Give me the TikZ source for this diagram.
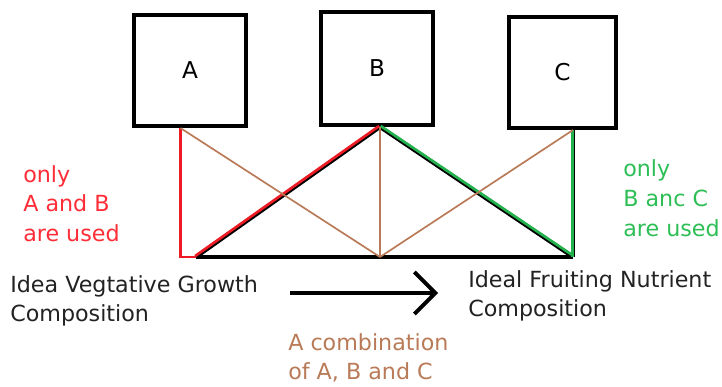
\documentclass[tikz,border=0pt]{standalone}
\usepackage{fontspec}
\setmainfont{DejaVu Sans}
\usepackage{xcolor}
\usetikzlibrary{arrows.meta}
\definecolor{usedred}{RGB}{237,28,36}
\definecolor{textred}{RGB}{255,45,55}
\definecolor{usedgreen}{RGB}{34,177,76}
\definecolor{textgreen}{RGB}{45,190,85}
\definecolor{mixbrown}{RGB}{185,122,87}
\definecolor{inktext}{RGB}{34,34,34}

\begin{document}
\begin{tikzpicture}[
    box/.style={rectangle, draw, line width=2.8pt, minimum width=2.8cm, minimum height=2.78cm, font=\fontsize{16.5}{21}\selectfont},
    note/.style={anchor=base west, align=left, inner sep=0pt, font=\fontsize{15.8}{21}\selectfont},
    mix/.style={mixbrown, line width=1.2pt},
    base/.style={black, line width=2.6pt}
]
\useasboundingbox (0,0) rectangle (18.05,-9.675);

% the three stock solutions
\node[box] (A) at (4.75,-1.7625) {A};
\node[box, minimum height=2.82cm] (B) at (9.425,-1.7125) {B};
\node[box, minimum width=2.68cm] (C) at (14.0625,-1.8125) {C};

% ends of the mixing lines
\coordinate (a0) at (4.51,-3.2);
\coordinate (b0) at (9.5,-3.175);
\coordinate (c0) at (14.325,-3.25);
\coordinate (bl) at (4.51,-6.425);
\coordinate (bl2) at (4.9,-6.425);
\coordinate (bm) at (9.5,-6.425);
\coordinate (br) at (14.325,-6.425);

\draw[base] (bl2) -- (br);

% A and B only
\draw[base, line width=2.8pt] (bl2) -- (b0);
\draw[usedred, line width=1.9pt, transform canvas={shift={(-0.6pt,0.7pt)}}] (bl2) -- (b0);
\draw[usedred, line width=2pt, line join=miter] (a0) -- (bl) -- (bl2);

% B and C only
\draw[base, line width=2.8pt] (b0) -- (br);
\draw[usedgreen, line width=1.9pt, transform canvas={shift={(0.5pt,0.7pt)}}] (b0) -- (br);
\draw[black, line width=2.2pt] (c0) -- (br);
\draw[usedgreen, line width=1.7pt, transform canvas={shift={(-0.35pt,0pt)}}] (c0) -- (br);

% all three
\draw[mix] (a0) -- (bm);
\draw[mix] (b0) -- (bm);
\draw[mix] (c0) -- (bm);

\node[note, textred] (onlyab) at (0.575,-6.03) {only\\A and B\\are used};
\node[note, textgreen] (onlybc) at (15.575,-5.9) {only\\B anc C\\are used};

\node[note, inktext] (veg) at (0.25,-8.04) {Idea Vegtative Growth\\Composition};
\node[note, inktext] (fruit) at (11.7,-7.916) {Ideal Fruiting Nutrient\\Composition};

\coordinate (s) at (7.25,-7.325);
\coordinate (e) at (10.95,-7.325);
\draw[line width=2.8pt, -{Straight Barb[length=5.2mm, width=10.5mm]}] (s) -- (e);

\node[note, mixbrown] (combo) at (7.2,-9.49) {A combination\\of A, B and C};

\end{tikzpicture}
\end{document}
